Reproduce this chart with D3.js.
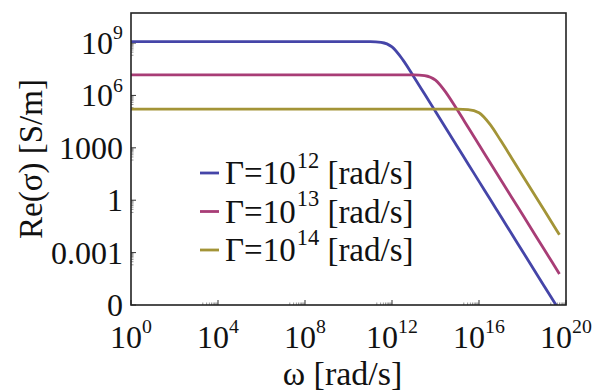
<!DOCTYPE html>
<html>
<head>
<meta charset="utf-8">
<script src="https://cdn.jsdelivr.net/npm/d3@7"></script>
<style>
  body { margin: 0; background: #fff; }
  text { font-family: "Liberation Serif", "DejaVu Serif", serif; fill: #111; }
</style>
</head>
<body>
<div id="chart-container"></div>
<script>
var svgWidth = 595;
var svgHeight = 392;

// frame of the plot area
var margin = { top: 13, right: 29, bottom: 87, left: 131 };
var width = svgWidth - margin.left - margin.right;
var height = svgHeight - margin.top - margin.bottom;

// angular frequency samples (rad/s)
var omega = [1, 1e4, 1e8, 1e10, 1e11, 3.16e11, 1e12, 3.16e12, 1e13, 3.16e13, 1e14,
             3.16e14, 1e15, 3.16e15, 1e16, 3.16e16, 1e17, 3.16e17, 1e18, 1e19, 5e19];

// Re(sigma) (S/m)
var sigmaG12 = [1.2e9, 1.2e9, 1.2e9, 1.2e9, 1.19e9, 1.09e9, 6e8, 1.09e8, 1.19e7, 1.2e6, 1.2e5,
                1.2e4, 1.2e3, 120, 12, 1.2, 0.12, 0.012, 1.2e-3, 1.2e-5, 4.8e-7];
var sigmaG13 = [1.5e7, 1.5e7, 1.5e7, 1.5e7, 1.5e7, 1.5e7, 1.5e7, 1.5e7, 1.49e7, 1.36e7, 7.5e6,
                1.36e6, 1.49e5, 1.5e4, 1.5e3, 150, 15, 1.5, 0.15, 1.5e-3, 6e-5];
var sigmaG14 = [1.66e5, 1.66e5, 1.66e5, 1.66e5, 1.66e5, 1.66e5, 1.66e5, 1.66e5, 1.66e5, 1.66e5, 1.66e5,
                1.66e5, 1.65e5, 1.56e5, 1.02e5, 2.27e4, 2.59e3, 263, 26.3, 0.263, 1.05e-2];

var seriesNames = ["12", "13", "14"];
var seriesColors = ["#4545a8", "#a83d76", "#a39437"];

var xTicks = [1, 1e4, 1e8, 1e12, 1e16, 1e20];
var xTickLabels = [["10", "0"], ["10", "4"], ["10", "8"], ["10", "12"], ["10", "16"], ["10", "20"]];
var yTicks = [1e-6, 1e-3, 1, 1e3, 1e6, 1e9];
var yTickLabels = [["0"], ["0.001"], ["1"], ["1000"], ["10", "6"], ["10", "9"]];

var svg = d3.select("#chart-container")
    .append("svg")
    .attr("width", svgWidth)
    .attr("height", svgHeight)
    .append("g")
    .attr("transform", "translate(" + margin.left + "," + margin.top + ")");

var x = d3.scaleLog()
    .domain([1, 1e20])
    .range([0, width]);

var y = d3.scaleLog()
    .domain([1e-6, Math.pow(10, 10.72)])
    .range([height, 0]);

// text with optional superscript
function powText(sel, parts) {
    sel.append("tspan").text(parts[0]);
    if (parts.length > 1) {
        sel.append("tspan")
            .attr("font-size", "0.62em")
            .attr("dy", "-0.75em")
            .text(parts[1]);
    }
}

// minor ticks: the nine steps below each labelled decade
var xMinor = [];
xTicks.forEach(function(t) {
    if (t > 1) for (var k = 2; k <= 9; k++) xMinor.push(t / 10 * k);
});
var yMinor = [];
yTicks.forEach(function(t) {
    if (t > 1e-6) for (var k = 2; k <= 9; k++) yMinor.push(t / 10 * k);
});

var tickColor = "#333";

svg.selectAll(".xminor")
    .data(xMinor)
    .enter().append("line")
    .attr("x1", function(d) { return x(d); })
    .attr("x2", function(d) { return x(d); })
    .attr("y1", height)
    .attr("y2", height - 2.5)
    .style("stroke", "#777")
    .style("stroke-width", 0.8);

svg.selectAll(".xmajor")
    .data(xTicks)
    .enter().append("line")
    .attr("x1", function(d) { return x(d); })
    .attr("x2", function(d) { return x(d); })
    .attr("y1", height)
    .attr("y2", height - 5)
    .style("stroke", tickColor)
    .style("stroke-width", 1);

svg.selectAll(".yminor")
    .data(yMinor)
    .enter().append("line")
    .attr("x1", 0)
    .attr("x2", 2.5)
    .attr("y1", function(d) { return y(d); })
    .attr("y2", function(d) { return y(d); })
    .style("stroke", "#777")
    .style("stroke-width", 0.8);

svg.selectAll(".ymajor")
    .data(yTicks)
    .enter().append("line")
    .attr("x1", 0)
    .attr("x2", 5)
    .attr("y1", function(d) { return y(d); })
    .attr("y2", function(d) { return y(d); })
    .style("stroke", tickColor)
    .style("stroke-width", 1);

// tick labels
svg.selectAll(".xlabel")
    .data(xTicks)
    .enter().append("text")
    .attr("x", function(d) { return x(d); })
    .attr("y", height + 43)
    .attr("text-anchor", "middle")
    .style("font-size", "32px")
    .each(function(d, i) { powText(d3.select(this), xTickLabels[i]); });

svg.selectAll(".ylabel")
    .data(yTicks)
    .enter().append("text")
    .attr("x", -8)
    .attr("y", function(d) { return y(d) + 11; })
    .attr("text-anchor", "end")
    .style("font-size", "32px")
    .each(function(d, i) { powText(d3.select(this), yTickLabels[i]); });

// curves
svg.append("clipPath").attr("id", "plotclip")
    .append("rect").attr("width", width).attr("height", height);

var line = d3.line()
    .x(function(d) { return x(d[0]); })
    .y(function(d) { return y(d[1]); })
    .curve(d3.curveMonotoneX);

[sigmaG12, sigmaG13, sigmaG14].forEach(function(s, i) {
    svg.append("path")
        .datum(d3.zip(omega, s))
        .attr("clip-path", "url(#plotclip)")
        .attr("d", line)
        .style("fill", "none")
        .style("stroke", seriesColors[i])
        .style("stroke-width", 2.8);
});

// frame
svg.append("rect")
    .attr("width", width)
    .attr("height", height)
    .style("fill", "none")
    .style("stroke", "#222")
    .style("stroke-width", 1.6);

// axis titles
svg.append("text")
    .attr("x", width / 2 - 6)
    .attr("y", height + 80)
    .attr("text-anchor", "middle")
    .style("font-size", "34px")
    .text("\u03c9 [rad/s]");

svg.append("text")
    .attr("transform", "translate(" + (42 - margin.left) + "," + 146 + ") rotate(-90)")
    .attr("text-anchor", "middle")
    .style("font-size", "33px")
    .text("Re(\u03c3) [S/m]");

// legend
var legend = svg.selectAll(".legend")
    .data(seriesNames)
    .enter().append("g")
    .attr("transform", function(d, i) { return "translate(69," + (160 + i * 38.5) + ")"; });

legend.append("line")
    .attr("x1", 0)
    .attr("x2", 19)
    .attr("y1", 0)
    .attr("y2", 0)
    .style("stroke", function(d, i) { return seriesColors[i]; })
    .style("stroke-width", 2.8);

legend.append("text")
    .attr("x", 25)
    .attr("y", 11)
    .style("font-size", "33px")
    .each(function(d) {
        var t = d3.select(this);
        t.append("tspan").text("\u0393=10");
        t.append("tspan").attr("font-size", "0.68em").attr("dx", "1").attr("dy", "-0.72em").text(d);
        t.append("tspan").attr("dy", "0.49em").text(" [rad/s]");
    });
</script>
</body>
</html>
